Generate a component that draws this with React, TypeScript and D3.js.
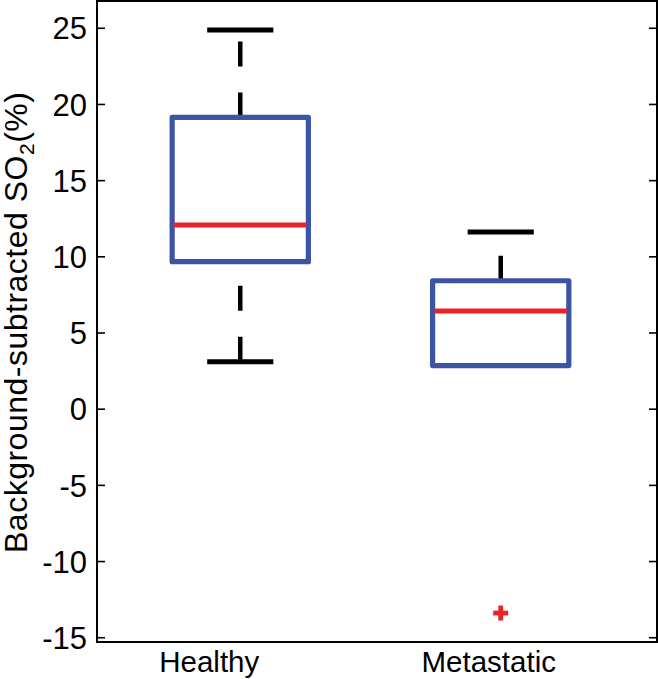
import React from "react";
import * as d3 from "d3";

const categories = ["Healthy", "Metastatic"];
const lowerWhisker = [3.12, 2.86];
const q1 = [9.68, 2.86];
const median = [12.09, 6.45];
const q3 = [19.15, 8.43];
const upperWhisker = [24.89, 11.63];
const outliers = [[], [-13.38]];
const yTicks = [-15, -10, -5, 0, 5, 10, 15, 20, 25];
const yLabelMain = "Background-subtracted SO";
const yLabelSub = "2";
const yLabelEnd = "(%)";

const W = 658;
const H = 679;
const left = 97;
const right = 657;
const top = 1;
const bottom = 642;

export default function App() {
  const x = d3.scaleLinear().domain([0.45, 2.6]).range([left, right]);
  const y = d3.scaleLinear().domain([-15.28, 26.79]).range([bottom, top]);
  const boxHalf = (x(1.523) - x(1)) / 2;
  const capHalf = (x(1.254) - x(1)) / 2;
  const blue = "#3b54a3";
  const red = "#ec2227";
  const font = "'Liberation Sans', Arial, Helvetica, sans-serif";
  const labelOffsets = [-31, -12];

  return (
    <svg
      width={W}
      height={H}
      style={{ position: "absolute", left: 0, top: 0, background: "#fff" }}
      fontFamily={font}
    >
      {categories.map((c, i) => {
        const cx = x(i + 1);
        return (
          <g key={c}>
            <line x1={cx} x2={cx} y1={y(q3[i])} y2={y(upperWhisker[i])} stroke="#000" strokeWidth={4.5} strokeDasharray="25,26" />
            <line x1={cx} x2={cx} y1={y(lowerWhisker[i])} y2={y(q1[i])} stroke="#000" strokeWidth={4.5} strokeDasharray="25,26" />
            <line x1={cx - capHalf} x2={cx + capHalf} y1={y(upperWhisker[i])} y2={y(upperWhisker[i])} stroke="#000" strokeWidth={5} />
            <line x1={cx - capHalf} x2={cx + capHalf} y1={y(lowerWhisker[i])} y2={y(lowerWhisker[i])} stroke="#000" strokeWidth={5} />
            <rect
              x={cx - boxHalf}
              y={y(q3[i])}
              width={2 * boxHalf}
              height={y(q1[i]) - y(q3[i])}
              fill="none"
              stroke={blue}
              strokeWidth={5.2}
              strokeLinejoin="round"
            />
            <line x1={cx - boxHalf + 2} x2={cx + boxHalf - 2} y1={y(median[i])} y2={y(median[i])} stroke={red} strokeWidth={5} />
            {outliers[i].map((v, k) => (
              <g key={k} stroke={red} strokeWidth={4.8}>
                <line x1={cx - 7.5} x2={cx + 7.5} y1={y(v)} y2={y(v)} />
                <line x1={cx} x2={cx} y1={y(v) - 7.5} y2={y(v) + 7.5} />
              </g>
            ))}
            <text x={cx + labelOffsets[i]} y={672} textAnchor="middle" fontSize={29.5} fill="#000">
              {c}
            </text>
          </g>
        );
      })}

      <rect x={left} y={top} width={right - left} height={bottom - top} fill="none" stroke="#000" strokeWidth={2} />
      {yTicks.map((t) => (
        <g key={t}>
          <line x1={left} x2={left + 8} y1={y(t)} y2={y(t)} stroke="#000" strokeWidth={1.6} />
          <line x1={right - 8} x2={right} y1={y(t)} y2={y(t)} stroke="#000" strokeWidth={1.6} />
          <text x={87} y={y(t)} dy="0.36em" textAnchor="end" fontSize={31} fill="#000">
            {t}
          </text>
        </g>
      ))}

      <text transform={`translate(27,553) rotate(-90)`} fontSize={32} letterSpacing={0.5} fill="#000">
        {yLabelMain}
        <tspan fontSize={21} dy={7}>{yLabelSub}</tspan>
        <tspan dy={-7}>{yLabelEnd}</tspan>
      </text>
    </svg>
  );
}
